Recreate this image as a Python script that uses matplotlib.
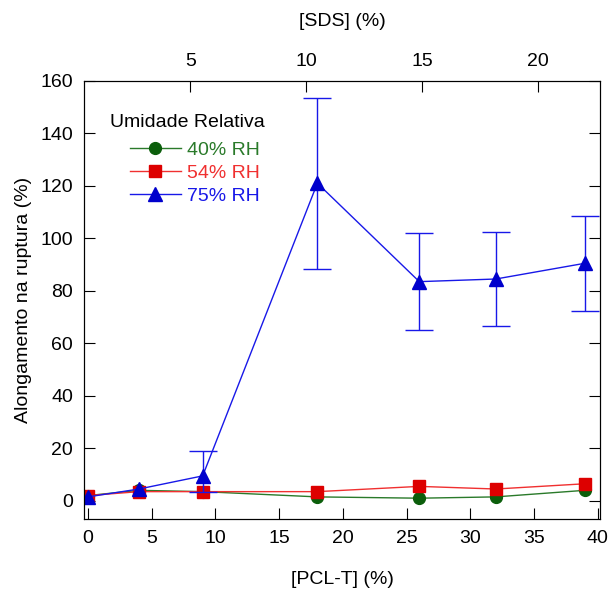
import matplotlib
matplotlib.use('Agg')
import matplotlib.pyplot as plt

plt.rcParams['font.family'] = ['Liberation Sans', 'DejaVu Sans']

# data
pcl = [0, 4, 9, 18, 26, 32, 39]
rh40 = [2, 4, 3.5, 1.5, 1, 1.5, 4]
rh54 = [2, 3.5, 3.5, 3.5, 5.5, 4.5, 6.5]
rh75 = [1.5, 4.5, 9.5, 121, 83.5, 84.5, 90.5]
rh75_lo = [0, 0, 6, 32.5, 18.5, 18, 18]
rh75_hi = [0, 0, 9.5, 32.5, 18.5, 18, 18]

sds_ticks = [5, 10, 15, 20]

fs = 14
fig = plt.figure(figsize=(6.1, 5.9), dpi=100)
ax = fig.add_axes([0.138, 0.12, 0.846, 0.743])

green, red, blue = '#0b5e0b', '#dd0000', '#0000cc'
ax.plot(pcl, rh40, '-o', color='#2a7a2a', mfc=green, mec=green, lw=1, ms=8.5, label='40% RH')
ax.plot(pcl, rh54, '-s', color='#f03030', mfc=red, mec=red, lw=1, ms=9, label='54% RH')

# error bars only where there is a measured spread
idx = [i for i in range(len(pcl)) if rh75_hi[i] > 0]
ax.errorbar([pcl[i] for i in idx], [rh75[i] for i in idx],
            yerr=[[rh75_lo[i] for i in idx], [rh75_hi[i] for i in idx]],
            fmt='none', ecolor='#1818e8', elinewidth=1, capsize=10)
ax.plot(pcl, rh75, '-^', color='#1818e8', mfc=blue, mec=blue, lw=1, ms=10, label='75% RH')

ax.set_xlim(-0.3, 40.2)
ax.set_ylim(-7, 160)
ax.set_xticks(range(0, 41, 5))
ax.set_yticks(range(0, 161, 20))
ax.tick_params(direction='in', length=8, labelsize=fs, right=True, pad=8)
ax.set_xlabel('[PCL-T] (%)', fontsize=fs, labelpad=17)
ax.set_ylabel('Alongamento na ruptura (%)', fontsize=fs, labelpad=6)

# top axis: SDS concentration
ax2 = ax.twiny()
ax2.set_xlim(0.43, 22.67)
ax2.set_xticks(sds_ticks)
ax2.tick_params(direction='in', length=8, labelsize=fs, pad=8)
ax2.set_xlabel('[SDS] (%)', fontsize=fs, labelpad=19)

ax.text(0.05, 0.906, 'Umidade Relativa', transform=ax.transAxes, fontsize=fs,
        va='center', ha='left')
ax.legend(loc='center left', bbox_to_anchor=(0.089, 0.79), frameon=False, fontsize=fs,
          labelcolor='linecolor', handlelength=2.6, handletextpad=0.35,
          labelspacing=0.28, borderpad=0, borderaxespad=0)

fig.savefig('out.png', dpi=100)
